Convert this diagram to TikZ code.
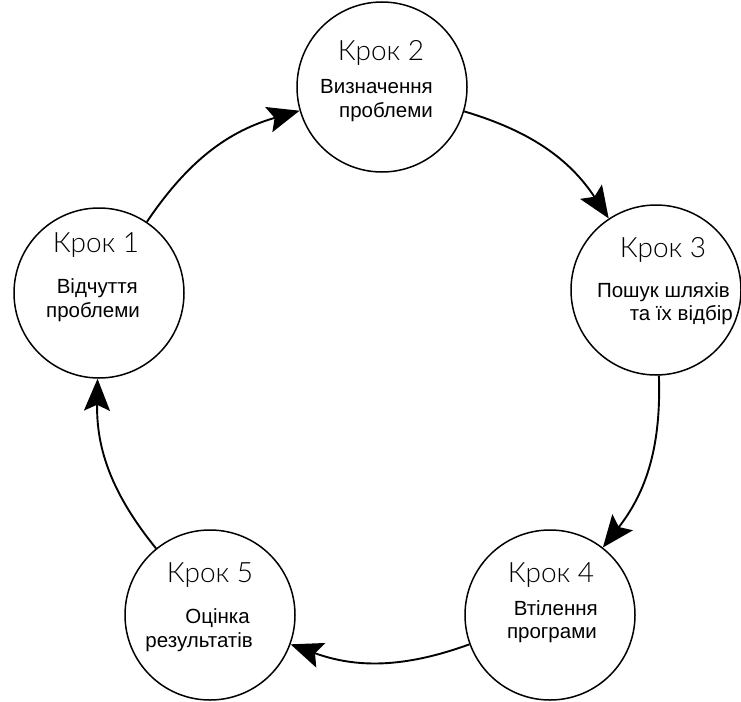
\documentclass[tikz,border=0pt]{standalone}
\usepackage{fontspec}
\setmainfont{Liberation Sans}
\newfontfamily\krokfont{Lato Light}
\usetikzlibrary{arrows.meta}
\tikzset{
  stage/.style={circle, draw=black, line width=1.5pt, minimum size=170pt, inner sep=0pt},
  krok/.style={anchor=base, inner sep=0pt, font=\krokfont\fontsize{28}{32}\selectfont},
  body/.style={anchor=base east, inner sep=0pt, font=\fontsize{20.5}{24}\selectfont},
  flow/.style={line width=1.9pt, -{Stealth[length=32pt, width=26pt, inset=6pt]}, bend left=20}
}
\begin{document}
\begin{tikzpicture}[x=1pt, y=-1pt]
\useasboundingbox (0,0) rectangle (741,701);
\node[stage] (k1) at (99,293) {};
\node[stage] (k2) at (382,87) {};
\node[stage] (k3) at (656,290) {};
\node[stage] (k4) at (550,615) {};
\node[stage] (k5) at (210,615) {};

\node[krok] (t1) at (96,252) {Крок 1};
\node[krok] (t2) at (381,60) {Крок 2};
\node[krok] (t3) at (663,257) {Крок 3};
\node[krok] (t4) at (551,582) {Крок 4};
\node[krok] (t5) at (210,582) {Крок 5};

\node[body] (b1a) at (138,293) {Відчуття};
\node[body] (b1b) at (140,317) {проблеми};
\node[body] (b2a) at (433,93) {Визначення};
\node[body] (b2b) at (433,117) {проблеми};
\node[body] (b3a) at (730,297) {Пошук шляхів};
\node[body] (b3b) at (733,320) {та їх відбір};
\node[body] (b4a) at (598,615) {Втілення};
\node[body] (b4b) at (597,638) {програми};
\node[body] (b5a) at (250,623) {Оцінка};
\node[body] (b5b) at (253,647) {результатів};

\draw[flow] (k1) to (k2);
\draw[flow] (k2) to (k3);
\draw[flow] (k3) to (k4);
\draw[flow] (k4) to (k5);
\draw[flow] (k5) to (k1);
\end{tikzpicture}
\end{document}
